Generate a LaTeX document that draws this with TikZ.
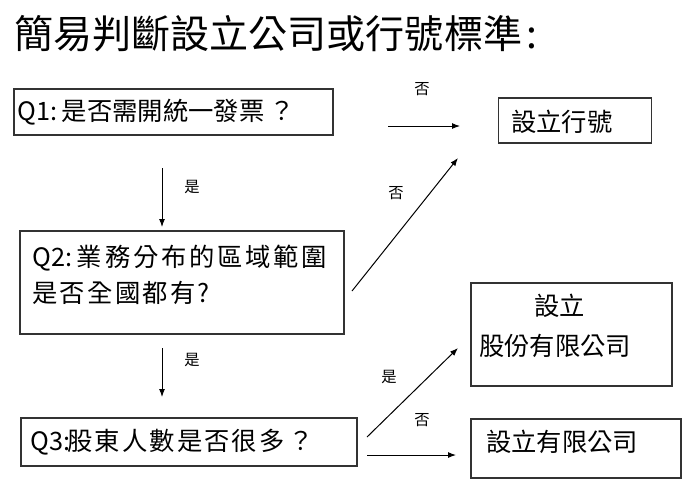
\documentclass[tikz,border=0pt]{standalone}
\usepackage{fontspec}
\setmainfont{Noto Sans CJK TC}
\newfontfamily\cjk{Noto Sans CJK TC}
\usetikzlibrary{arrows.meta}
\begin{document}
\begin{tikzpicture}[x=0.75pt,y=-0.75pt,
  box/.style={draw=black!80,line width=0.8pt,inner sep=0pt},
  txt/.style={anchor=west,inner sep=0pt,font=\cjk\fontsize{19pt}{23pt}\selectfont},
  lbl/.style={inner sep=0pt,font=\cjk\fontsize{11.5pt}{14pt}\selectfont},
  arr/.style={line width=0.75pt,-{Latex[length=6pt,width=4.5pt]}}]
\useasboundingbox (0,0) rectangle (684,482);
\fill[white] (0,0) rectangle (684,482);
% title
\node[anchor=west,inner sep=0pt,font=\cjk\fontsize{29.3pt}{32pt}\selectfont] (title) at (14,34) {簡易判斷設立公司或行號標準\hspace{3pt}:};
% boxes
\node[box,minimum width=239.25pt,minimum height=34.5pt] (q1) at (173.5,112) {};
\node[box,minimum width=114.75pt,minimum height=33.75pt] (hang) at (575,120.5) {};
\node[box,minimum width=243pt,minimum height=77.25pt] (q2) at (182,282.5) {};
\node[box,minimum width=150.75pt,minimum height=77.25pt] (gufen) at (571.5,334.5) {};
\node[box,minimum width=252pt,minimum height=36pt] (q3) at (189,442) {};
\node[box,minimum width=157.5pt,minimum height=44.25pt] (youxian) at (576,448.5) {};
% texts
\node[txt] (t1) at (17,112) {\makebox[33.5pt][l]{Q1:}是否需開統一發票\hspace{4pt}？};
\node[txt] (t2) at (511,122) {設立行號};
\node[txt] (t3a) at (32,258) {\makebox[33.5pt][l]{Q2:}{\addfontfeature{LetterSpace=11}業務分布的區域範圍}};
\node[txt] (t3b) at (32,293) {\addfontfeature{LetterSpace=9}是否全國都有?};
\node[txt] (t4a) at (534,306) {設立};
\node[txt] (t4b) at (479,346) {股份有限公司};
\node[txt] (t5) at (30,442) {\makebox[28pt][l]{Q3:}{\addfontfeature{LetterSpace=8}股東人數是否很多\hspace{3pt}？}};
\node[txt] (t6) at (486,442) {設立有限公司};
% connector ends
\coordinate (a1s) at (388,126); \coordinate (a1e) at (460,126);
\coordinate (a2s) at (162,168); \coordinate (a2e) at (162,227);
\coordinate (a3s) at (352,291); \coordinate (a3e) at (458,158);
\coordinate (a4s) at (162,348); \coordinate (a4e) at (162,397);
\coordinate (a5s) at (367,437); \coordinate (a5e) at (458,348);
\coordinate (a6s) at (367,455); \coordinate (a6e) at (456,455);
\draw[arr] (a1s) -- (a1e);
\draw[arr] (a2s) -- (a2e);
\draw[arr] (a3s) -- (a3e);
\draw[arr] (a4s) -- (a4e);
\draw[arr] (a5s) -- (a5e);
\draw[arr] (a6s) -- (a6e);
% labels
\node[lbl] (l1) at (422,89) {否};
\node[lbl] (l2) at (192,187) {是};
\node[lbl] (l3) at (396,193) {否};
\node[lbl] (l4) at (192,360) {是};
\node[lbl] (l5) at (389,377) {是};
\node[lbl] (l6) at (422,420) {否};
\end{tikzpicture}
\end{document}
